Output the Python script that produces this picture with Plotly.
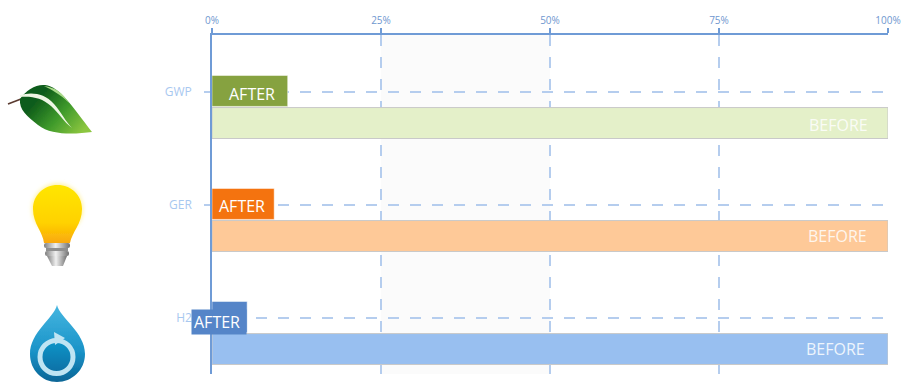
import base64
import plotly.graph_objects as go

categories = ["GWP", "GER", "H2"]
after_values = [11.2, 9.2, 5.2]
before_values = [100, 100, 100]
after_colors = ["#86a240", "#f4730f", "#5585c8"]
before_colors = ["#e4f0c9", "#fec998", "#98bff0"]
x_ticks = [0, 25, 50, 75, 100]
x_labels = ["0%", "25%", "50%", "75%", "100%"]

W, H = 904, 383
L, R, T, B = 212, 16, 35, 9

icons_svg = """<svg xmlns='http://www.w3.org/2000/svg' width='110' height='313' viewBox='0 70 110 313'>
<defs>
<filter id='b'><feGaussianBlur stdDeviation='0.6'/></filter>
<filter id='g'><feGaussianBlur stdDeviation='2'/></filter>
<linearGradient id='leaf' x1='0.15' y1='0.45' x2='0.9' y2='0.9'><stop offset='0' stop-color='#0f5c1a'/><stop offset='0.5' stop-color='#3f9a2b'/><stop offset='1' stop-color='#8cc63f'/></linearGradient>
<linearGradient id='bulb' x1='0' y1='0' x2='0' y2='1'><stop offset='0' stop-color='#ffe600'/><stop offset='0.65' stop-color='#ffd200'/><stop offset='1' stop-color='#f9a80c'/></linearGradient>
<linearGradient id='metal' x1='0' y1='0' x2='1' y2='0'><stop offset='0' stop-color='#808080'/><stop offset='0.45' stop-color='#f0f0f0'/><stop offset='1' stop-color='#707070'/></linearGradient>
<linearGradient id='drop' x1='0' y1='0' x2='0' y2='1'><stop offset='0' stop-color='#45b6e0'/><stop offset='0.6' stop-color='#1a93c8'/><stop offset='1' stop-color='#0a6596'/></linearGradient>
<linearGradient id='core' x1='0' y1='0' x2='0' y2='1'><stop offset='0' stop-color='#0f95c8'/><stop offset='1' stop-color='#0a6fa5'/></linearGradient>
</defs>
<g filter='url(#b)'>
<path d='M8,104 L21,99' stroke='#5a3a30' stroke-width='1.6' fill='none'/>
<path d='M20,99 C26,90 36,84 45,85 C60,87 72,106 92,132 C76,134 52,136 38,125 C27,116 19,110 20,99 Z' fill='url(#leaf)'/>
<path d='M20,95 C32,92 44,93 54,104 C61,112 66,122 72,128 C64,122 58,112 51,106 C42,98 32,96 20,97 Z' fill='#eef6e4'/>
<path d='M44,86 C56,88 62,92 69,103 C60,94 52,90 44,86 Z' fill='#a9d98a'/>
<circle cx='57.5' cy='209' r='25.5' fill='#fff2a0' filter='url(#g)'/>
<path d='M44,243 C43,232 33,224 33,209 C33,195 44,185 57.5,185 C71,185 82,195 82,209 C82,224 72,232 70,243 Z' fill='url(#bulb)'/>
<rect x='44' y='243' width='26' height='5' rx='2' fill='url(#metal)'/>
<rect x='46' y='248' width='22' height='3' fill='#8f8f8f'/>
<rect x='45' y='251' width='24' height='5' rx='2' fill='url(#metal)'/>
<path d='M47,256 H67 L63,266 H52 Z' fill='url(#metal)'/>
<path d='M57,305 C60,318 85,332 85,354 C85,370 72,382 57,382 C42,382 30,370 30,354 C30,332 54,318 57,305 Z' fill='url(#drop)'/>
<circle cx='56.5' cy='357' r='16' fill='url(#core)'/>
<circle cx='56.5' cy='357' r='16.5' fill='none' stroke='#bfe4f3' stroke-width='5'/>
<path d='M54,332 L65,338 L55,345 Z' fill='#bfe4f3'/>
</g>
</svg>"""
icons_uri = "data:image/svg+xml;base64," + base64.b64encode(icons_svg.encode()).decode()

plot_w = W - L - R
plot_h = H - T - B


def paper_x(px):
    return (px - L) / plot_w


def paper_y(py):
    return 1 - (py - T) / plot_h


fig = go.Figure()
fig.add_trace(go.Bar(
    y=categories, x=after_values, orientation="h", name="AFTER",
    width=0.274, offset=-0.142,
    marker=dict(color=after_colors, line=dict(color="rgba(255,255,255,0.5)", width=1)),
    hoverinfo="x+y",
))
fig.add_trace(go.Bar(
    y=categories, x=before_values, orientation="h", name="BEFORE",
    width=0.274, offset=0.142,
    marker=dict(color=before_colors, line=dict(color="#c9c9c9", width=1)),
    hoverinfo="x+y",
))

label_font = dict(family="Open Sans", size=16, color="white")
after_boxes = [
    dict(text="AFTER", x=after_values[0], xanchor="right", xshift=-11, yshift=-2),
    dict(text="AFTER", x=after_values[1], xanchor="right", xshift=-7, yshift=-1),
]
annotations = []
for cat, a in zip(categories[:2], after_boxes):
    annotations.append(dict(y=cat, yref="y", xref="x", showarrow=False, font=label_font, **a))
annotations.append(dict(
    y=categories[2], yref="y", x=0, xref="x", xanchor="left", xshift=-21, yshift=-4,
    text="AFTER", showarrow=False, font=label_font, bgcolor=after_colors[2],
    align="left", width=50, height=20, borderpad=2,
))
for cat, xs, ys in zip(categories, (-18, -19, -21), (-33, -31, -31)):
    annotations.append(dict(
        y=cat, yref="y", x=100, xref="x", xanchor="right", xshift=xs, yshift=ys,
        text="BEFORE", showarrow=False,
        font=dict(family="Open Sans", size=16, color="rgba(255,255,255,0.85)"),
    ))

fig.update_layout(
    width=W, height=H,
    margin=dict(l=L, r=R, t=T, b=B, autoexpand=False),
    paper_bgcolor="white", plot_bgcolor="white",
    showlegend=False,
    barmode="overlay",
    annotations=annotations,
    shapes=[dict(type="rect", xref="x", yref="paper", x0=25, x1=50, y0=0, y1=1,
                 fillcolor="#fbfbfb", line_width=0, layer="below")],
    images=[dict(source=icons_uri, xref="paper", yref="paper",
                 x=paper_x(0), y=paper_y(70), sizex=110 / plot_w, sizey=313 / plot_h,
                 xanchor="left", yanchor="top", sizing="stretch", layer="above")],
)
fig.update_xaxes(
    side="top", range=[0, 100], tickvals=x_ticks, ticktext=x_labels,
    ticks="outside", ticklen=5, tickcolor="#6f9bd6", tickwidth=1.5,
    showline=True, linecolor="#6f9bd6", linewidth=1.5,
    showgrid=True, gridcolor="#b5cdee", gridwidth=2, griddash="11px,11px",
    zeroline=False, tickfont=dict(family="Open Sans", size=10, color="#6f97cf"),
)
fig.update_yaxes(
    categoryorder="array", categoryarray=categories, range=[2.5, -0.5],
    ticks="outside", ticklen=6, tickcolor="#b5cdee", tickwidth=1.5,
    showline=True, linecolor="#6f9bd6", linewidth=1.5,
    showgrid=True, gridcolor="#b5cdee", gridwidth=2, griddash="11px,11px",
    zeroline=False, ticklabelstandoff=10,
    tickfont=dict(family="Open Sans", size=12, color="#a8c8f0"),
)
fig.write_html("out.html", post_script="document.body.style.margin='0';",
               config=dict(displayModeBar=False))
